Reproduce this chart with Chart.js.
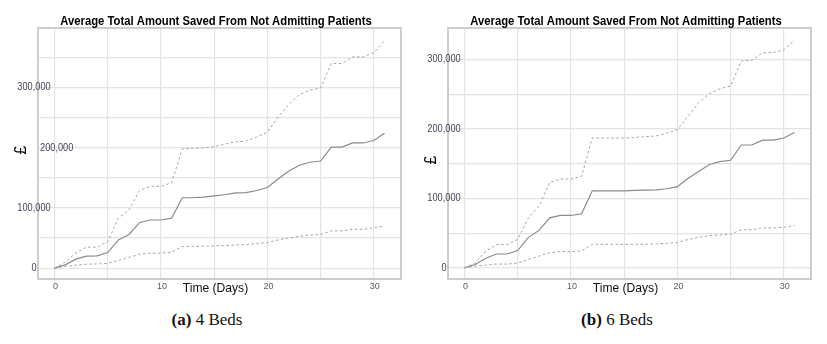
<!DOCTYPE html>
<html>
<head>
<meta charset="utf-8">
<script src="https://cdn.jsdelivr.net/npm/chart.js@4.4.1/dist/chart.umd.min.js"></script>
<style>
  body { margin: 0; background: #fff; width: 827px; height: 344px; position: relative; overflow: hidden; }
  .panel { position: absolute; top: 0; height: 300px; }
  .cap { position: absolute; top: 310px; width: 200px; text-align: center; font: 17px "Liberation Serif", "Times New Roman", serif; color: #111; }
</style>
</head>
<body>
<div class="panel" style="left:0;width:410px"><canvas id="chart4" width="410" height="300"></canvas></div>
<div class="panel" style="left:410px;width:417px"><canvas id="chart6" width="417" height="300"></canvas></div>
<div class="cap" style="left:107px"><b>(a)</b> 4 Beds</div>
<div class="cap" style="left:517px"><b>(b)</b> 6 Beds</div>

<script>
// Données (jours 0..31)
const days = [0, 1, 2, 3, 4, 5, 6, 7, 8, 9, 10, 11, 12, 13, 14, 15, 16, 17, 18, 19, 20, 21, 22, 23, 24, 25, 26, 27, 28, 29, 30, 31];

// (a) 4 lits
const mean4 = [0, 5500, 15000, 20000, 20500, 26000, 47000, 56000, 76000, 80000, 80000, 83000, 117000, 117000, 118000, 120000, 122000, 125000, 125500, 129000, 134000, 148000, 161000, 171000, 176000, 178000, 201000, 201000, 208000, 208000, 212000, 224000];
const upper4 = [0, 10000, 25000, 35000, 35000, 44000, 83000, 97000, 129000, 136000, 136000, 142000, 198000, 199000, 200000, 202000, 206000, 210000, 211000, 218000, 226000, 251000, 272000, 288000, 296000, 299000, 340000, 340000, 351000, 351000, 358000, 378000];
const lower4 = [0, 3000, 5000, 6500, 7000, 8000, 13000, 18000, 23000, 25000, 25000, 26500, 36000, 36000, 36500, 37000, 37500, 38500, 39000, 41000, 42500, 47000, 50000, 53000, 55000, 56000, 62000, 62000, 64500, 64500, 67000, 70000];

// (b) 6 lits
const mean6 = [0, 4800, 14000, 20000, 20000, 25000, 44000, 54000, 72000, 75500, 75500, 78000, 111000, 111000, 111000, 111000, 111500, 112000, 112500, 114000, 117000, 129000, 139000, 149000, 153000, 155000, 177000, 177000, 184000, 184000, 187000, 195000];
const upper6 = [0, 7000, 24000, 33500, 33500, 41000, 72000, 89000, 123000, 128000, 128000, 132000, 187000, 187000, 187000, 187000, 188000, 189000, 190000, 194000, 199000, 218000, 238000, 251000, 258000, 262000, 298000, 299000, 310000, 310000, 314000, 328000];
const lower6 = [0, 2500, 4000, 5500, 5500, 7000, 12000, 17000, 22000, 23500, 23500, 24500, 34000, 34000, 34000, 34000, 34000, 34000, 34500, 35500, 36500, 41000, 44000, 46500, 47500, 48500, 55000, 55000, 57500, 57500, 58500, 61000];

// Graduations (libellés) et lignes de grille
const xTickValues = [0, 10, 20, 30];
const yTickValues = [0, 100000, 200000, 300000];
const xGridValues = [0, 5, 10, 15, 20, 25, 30];
const yGridValues4 = [0, 50000, 100000, 150000, 200000, 250000, 300000, 350000];
const yGridValues6 = [0, 50000, 100000, 150000, 200000, 250000, 300000];

const chartTitle = 'Average Total Amount Saved From Not Admitting Patients';
const xTitle = 'Time (Days)';
const yTitle = '£';

function drawText(ctx, str, x, y, font, color, align, sx) {
  ctx.save();
  ctx.font = font;
  ctx.fillStyle = color;
  ctx.textAlign = align;
  ctx.textBaseline = 'middle';
  ctx.translate(x, y);
  ctx.scale(sx, 1);
  ctx.fillText(str, 0, 0);
  ctx.restore();
}

// Cadre, titre et libellés des axes
const decor = {
  id: 'decor',
  afterDraw(chart) {
    const { ctx, chartArea: a, scales: { x, y } } = chart;
    const o = chart.options.plugins.decor;
    const cx = (a.left + a.right) / 2;

    ctx.save();
    ctx.strokeStyle = '#cdcdcd';
    ctx.lineWidth = 2;
    ctx.strokeRect(a.left, a.top, a.right - a.left, a.bottom - a.top);
    ctx.restore();

    drawText(ctx, chartTitle, cx - 3.5, 22, 'bold 12px "Liberation Sans", Arial', '#000', 'center', 0.94);

    yTickValues.forEach(v => {
      const py = y.getPixelForValue(v);
      const label = v.toLocaleString('en-US');
      if (Math.abs(py - o.yTitleY) < 10) {
        drawText(ctx, label, a.left + 2, py, '10.5px "Liberation Sans", Arial', '#45455a', 'left', 0.88);
      } else {
        drawText(ctx, label, a.left - 4, py, '10.5px "Liberation Sans", Arial', '#45455a', 'center', 0.88);
      }
    });

    xTickValues.forEach(v => {
      drawText(ctx, String(v), x.getPixelForValue(v) + 1, a.bottom + 7, '9.5px "Liberation Sans", Arial', '#5a5a5a', 'center', 0.95);
    });

    drawText(ctx, xTitle, cx - 4, a.bottom + 9, '13px "Liberation Sans", Arial', '#111', 'center', 0.93);

    ctx.save();
    ctx.translate(22, o.yTitleY);
    ctx.rotate(-Math.PI / 2);
    ctx.font = '16px "Liberation Sans", Arial';
    ctx.fillStyle = '#000';
    ctx.textAlign = 'center';
    ctx.textBaseline = 'middle';
    ctx.fillText(yTitle, 0, 0);
    ctx.restore();
  }
};

function makeChart(id, mean, upper, lower, yMin, yMax, yGrid, padRight, yTitleY) {
  const pts = arr => days.map((d, i) => ({ x: d, y: arr[i] }));
  const dashed = { borderColor: '#a3a3a3', borderWidth: 1, borderDash: [2.5, 2.5], pointRadius: 0, tension: 0, fill: false };
  return new Chart(document.getElementById(id), {
    type: 'line',
    data: {
      datasets: [
        { label: 'Upper', data: pts(upper), ...dashed },
        { label: 'Lower', data: pts(lower), ...dashed },
        { label: 'Mean', data: pts(mean), borderColor: '#8a8a8a', borderWidth: 1.2, pointRadius: 0, tension: 0, fill: false }
      ]
    },
    options: {
      responsive: false,
      animation: false,
      events: [],
      layout: { autoPadding: false, padding: { left: 38, top: 28, right: padRight, bottom: 21 } },
      plugins: {
        legend: { display: false },
        tooltip: { enabled: false },
        decor: { yTitleY: yTitleY }
      },
      scales: {
        x: {
          type: 'linear',
          min: -1.55,
          max: 32.55,
          ticks: { display: false },
          grid: { color: '#e3e3e3', lineWidth: 1.2, drawTicks: false },
          border: { display: false },
          afterBuildTicks: s => { s.ticks = xGridValues.map(v => ({ value: v })); },
          afterFit: s => { s.height = 0; }
        },
        y: {
          min: yMin,
          max: yMax,
          ticks: { display: false },
          grid: { color: '#e3e3e3', lineWidth: 1.2, drawTicks: false },
          border: { display: false },
          afterBuildTicks: s => { s.ticks = yGrid.map(v => ({ value: v })); },
          afterFit: s => { s.width = 0; }
        }
      }
    },
    plugins: [decor]
  });
}

makeChart('chart4', mean4, upper4, lower4, -18000, 399000, yGridValues4, 9, 150);
makeChart('chart6', mean6, upper6, lower6, -16000, 345500, yGridValues6, 16, 160);
</script>
</body>
</html>
